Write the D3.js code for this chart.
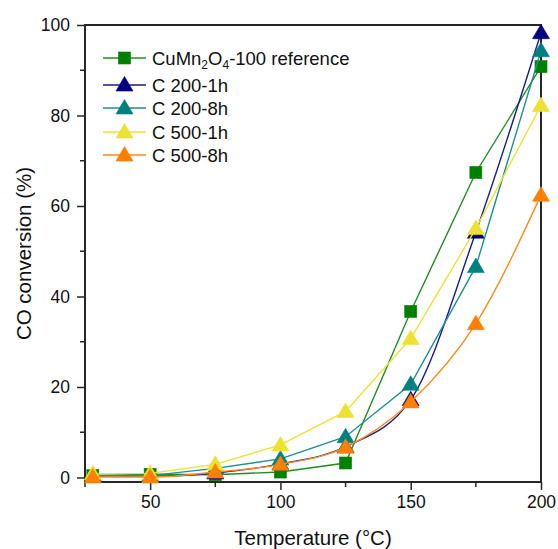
<!DOCTYPE html>
<html>
<head>
<meta charset="utf-8">
<script src="https://cdn.jsdelivr.net/npm/d3@7"></script>
<style>
  body { margin: 0; background: #fff; }
  svg { display: block; font-family: "Liberation Sans", Arial, sans-serif; }
</style>
</head>
<body>
<div id="chart"></div>
<script>
const temps = [28, 50, 75, 100, 125, 150, 175, 200];

const refCuMn = [0.4, 0.7, 0.6, 1.2, 3.2, 36.7, 67.4, 90.8];
const c200_1h = [0.3, 0.3, 1.0, 3.0, 6.8, 17.2, 54.2, 98.3];
const c200_8h = [0.5, 0.4, 2.0, 4.1, 9.0, 20.6, 46.6, 94.3];
const c500_1h = [0.8, 0.9, 2.9, 7.2, 14.6, 30.7, 55.0, 82.2];
const c500_8h = [0.1, 0.1, 1.2, 2.9, 6.7, 16.7, 34.0, 62.4];

const xTicks = [50, 100, 150, 200];
const xMinor = [25, 75, 125, 175];
const yTicks = [0, 20, 40, 60, 80, 100];
const yMinor = [10, 30, 50, 70, 90];

const series = [
  { name: "ref",  values: refCuMn, color: "#008000", line: "#1f8f1f", marker: "square", curve: d3.curveLinear },
  { name: "C 200-1h", values: c200_1h, color: "#000080", line: "#1a1a8c", marker: "tri", curve: d3.curveMonotoneX },
  { name: "C 200-8h", values: c200_8h, color: "#008080", line: "#1a9090", marker: "tri", curve: d3.curveLinear },
  { name: "C 500-1h", values: c500_1h, color: "#ede232", line: "#ede232", marker: "tri", curve: d3.curveLinear },
  { name: "C 500-8h", values: c500_8h, color: "#ff8000", line: "#ff8a1a", marker: "tri", curve: d3.curveMonotoneX }
];

const W = 558, H = 549;
const m = { left: 85, right: 541, top: 25, bottom: 482 };

const svg = d3.select("#chart").append("svg")
  .attr("width", W)
  .attr("height", H);

const x = d3.scaleLinear().domain([25, 200]).range([m.left, m.right]);
const y = d3.scaleLinear().domain([-1, 100]).range([m.bottom, m.top]);

const axisColor = "#262626";

// frame
svg.append("rect")
  .attr("x", m.left).attr("y", m.top)
  .attr("width", m.right - m.left).attr("height", m.bottom - m.top)
  .attr("fill", "none")
  .attr("stroke", axisColor)
  .attr("stroke-width", 2);

// x axis
const xAxis = svg.append("g")
  .attr("transform", `translate(0,${m.bottom})`)
  .call(d3.axisBottom(x).tickValues(xTicks).tickSize(8).tickPadding(6).tickSizeOuter(0));
xAxis.select(".domain").remove();
xAxis.selectAll("line").attr("stroke", axisColor).attr("stroke-width", 1.5);
xAxis.selectAll("text").attr("fill", "#111").style("font-size", "17.5px");

svg.append("g").selectAll("line")
  .data(xMinor).join("line")
  .attr("x1", d => x(d)).attr("x2", d => x(d))
  .attr("y1", m.bottom).attr("y2", m.bottom + 5)
  .attr("stroke", axisColor).attr("stroke-width", 1.5);

// y axis
const yAxis = svg.append("g")
  .attr("transform", `translate(${m.left},0)`)
  .call(d3.axisLeft(y).tickValues(yTicks).tickSize(8).tickPadding(7).tickSizeOuter(0));
yAxis.select(".domain").remove();
yAxis.selectAll("line").attr("stroke", axisColor).attr("stroke-width", 1.5);
yAxis.selectAll("text").attr("fill", "#111").style("font-size", "17.5px");

svg.append("g").selectAll("line")
  .data(yMinor).join("line")
  .attr("x1", m.left - 5).attr("x2", m.left)
  .attr("y1", d => y(d)).attr("y2", d => y(d))
  .attr("stroke", axisColor).attr("stroke-width", 1.5);

// axis titles
svg.append("text")
  .attr("x", (m.left + m.right) / 2)
  .attr("y", 545)
  .attr("text-anchor", "middle")
  .attr("fill", "#111")
  .style("font-size", "20.5px")
  .text("Temperature (°C)");

svg.append("text")
  .attr("transform", `translate(31,${(m.top + m.bottom) / 2}) rotate(-90)`)
  .attr("text-anchor", "middle")
  .attr("fill", "#111")
  .style("font-size", "20.5px")
  .text("CO conversion (%)");

function drawMarker(g, type, color, cx, cy) {
  if (type === "square") {
    g.append("rect")
      .attr("x", cx - 6).attr("y", cy - 6)
      .attr("width", 12).attr("height", 12)
      .attr("fill", color)
      .attr("stroke", color).attr("stroke-width", 0.6);
  } else {
    g.append("path")
      .attr("d", `M${cx},${cy - 8.5}L${cx + 8.5},${cy + 6}L${cx - 8.5},${cy + 6}Z`)
      .attr("fill", color)
      .attr("stroke", color).attr("stroke-width", 0.6);
  }
}

const plot = svg.append("g");

series.forEach(s => {
  const pts = temps.map((t, i) => ({ t, v: s.values[i] }));
  const line = d3.line().x(d => x(d.t)).y(d => y(d.v)).curve(s.curve);
  const g = plot.append("g");
  g.append("path")
    .datum(pts)
    .attr("d", line)
    .attr("fill", "none")
    .attr("stroke", s.line)
    .attr("stroke-width", 1.4);
  pts.forEach(p => drawMarker(g, s.marker, s.color, x(p.t), y(p.v)));
});

// legend
const legendRows = [58, 85, 108, 132, 155];
const legend = svg.append("g");
series.forEach((s, i) => {
  const cy = legendRows[i];
  legend.append("line")
    .attr("x1", 103).attr("x2", 146)
    .attr("y1", cy).attr("y2", cy)
    .attr("stroke", s.line).attr("stroke-width", 1.4);
  drawMarker(legend, s.marker, s.color, 124.5, cy);
  const t = legend.append("text")
    .attr("x", 152)
    .attr("y", cy + 6.7)
    .attr("fill", "#111")
    .style("font-size", "18.5px");
  if (i === 0) {
    t.append("tspan").text("CuMn");
    t.append("tspan").attr("dy", 4).style("font-size", "12px").text("2");
    t.append("tspan").attr("dy", -4).text("O");
    t.append("tspan").attr("dy", 4).style("font-size", "12px").text("4");
    t.append("tspan").attr("dy", -4).text("-100 reference");
  } else {
    t.text(s.name);
  }
});
</script>
</body>
</html>
